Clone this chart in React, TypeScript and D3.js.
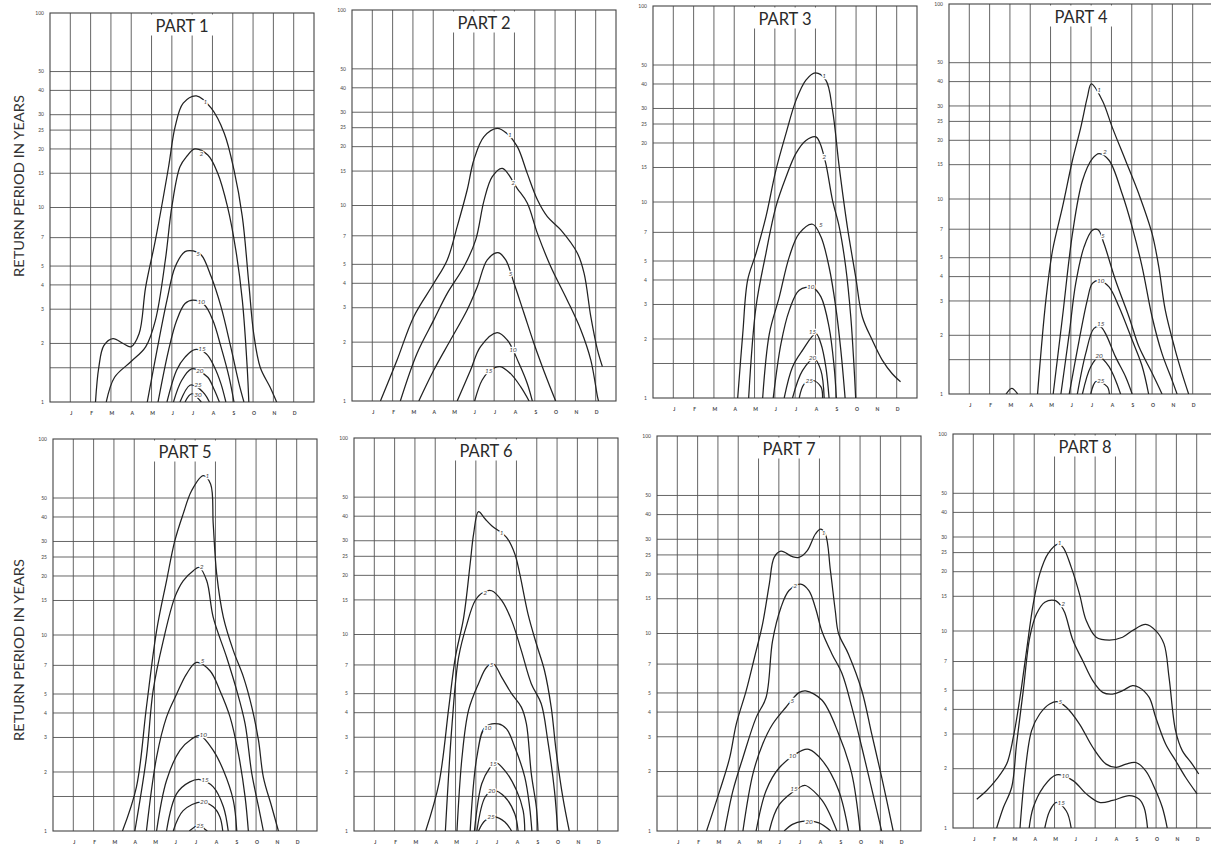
import React, { useEffect, useRef } from 'react';
import * as d3 from 'd3';

type Pt = [number, number];

const months = ['J', 'F', 'M', 'A', 'M', 'J', 'J', 'A', 'S', 'O', 'N', 'D'];
const yTicks = [1, 2, 3, 4, 5, 7, 10, 15, 20, 25, 30, 40, 50, 100];
const yGrid = [1.5, 2, 3, 4, 5, 7, 10, 15, 20, 25, 30, 40, 50];
const axisTitle = 'RETURN PERIOD IN YEARS';

// curve values: [month (J = 1), value]
const part1Names = ['1', '2', '5', '10', '15', '20', '25', '30'];
const part1Curves: Pt[][] = [
  [[2.24, 1], [2.4, 1.5], [2.65, 1.95], [3.1, 2.12], [3.6, 2.0], [3.98, 1.92], [4.39, 2.25], [4.71, 3.9], [5.19, 6.8], [5.84, 16.2], [6.16, 26], [6.56, 34.4], [7.21, 37.5], [7.94, 32.4], [8.58, 24.1], [9.06, 15.6], [9.47, 8.97], [9.79, 4.07], [10.03, 2.25], [10.35, 1.51], [10.84, 1.19], [11.16, 1]],
  [[2.77, 1], [3.18, 1.34], [3.98, 1.61], [4.71, 1.92], [5.19, 2.63], [5.68, 5.37], [6.0, 10.1], [6.4, 16.2], [6.73, 18.3], [7.13, 20], [7.77, 18.6], [8.26, 15.0], [8.74, 10.1], [9.15, 6.04], [9.47, 3.34], [9.71, 1.51], [9.79, 1]],
  [[4.79, 1], [5.27, 1.85], [5.76, 3.34], [6.16, 4.95], [6.65, 5.93], [7.05, 5.98], [7.45, 5.7], [7.94, 4.4], [8.42, 3.09], [8.9, 1.92], [9.31, 1.24], [9.55, 1]],
  [[5.32, 1], [5.84, 1.85], [6.24, 2.63], [6.65, 3.21], [7.05, 3.34], [7.61, 3.15], [8.02, 2.63], [8.42, 1.92], [8.82, 1.34], [9.06, 1]],
  [[5.76, 1], [6.24, 1.46], [6.65, 1.7], [7.13, 1.86], [7.69, 1.77], [8.1, 1.51], [8.42, 1.24], [8.66, 1]],
  [[6.08, 1], [6.48, 1.29], [6.97, 1.48], [7.3, 1.45], [7.77, 1.34], [8.1, 1.15], [8.34, 1]],
  [[6.4, 1], [6.89, 1.22], [7.2, 1.2], [7.61, 1.1], [7.85, 1]],
  [[6.65, 1], [6.97, 1.1], [7.45, 1]],
];
const part1Labels: Pt[] = [[7.65, 35], [7.45, 19], [7.29, 5.8], [7.45, 3.28], [7.48, 1.88], [7.37, 1.44], [7.29, 1.22], [7.29, 1.09]];

const part2Names = ['1', '2', '5', '10', '15'];
const part2Curves: Pt[][] = [
  [[1.4, 1], [2.22, 1.62], [3.04, 2.7], [4.03, 4.0], [4.69, 5.27], [5.18, 7.8], [5.67, 12.0], [6.0, 17.1], [6.5, 22.5], [7.15, 24.8], [7.6, 23.5], [8.14, 20.0], [8.63, 14.6], [9.13, 10.7], [9.62, 8.77], [10.28, 7.5], [11.1, 5.7], [11.43, 4.5], [11.76, 2.7], [12.09, 1.82], [12.33, 1.5]],
  [[2.38, 1], [3.2, 1.75], [4.03, 2.6], [4.69, 3.55], [5.51, 4.86], [6.09, 6.67], [6.5, 10.6], [6.9, 14.0], [7.4, 15.5], [8.14, 12.2], [8.63, 10.3], [9.13, 7.2], [9.79, 4.86], [10.6, 3.28], [11.27, 2.31], [11.76, 1.62], [12.09, 1.05], [12.14, 1]],
  [[3.29, 1], [4.03, 1.44], [4.85, 2.05], [5.67, 2.92], [6.17, 3.84], [6.66, 5.27], [7.19, 5.74], [7.57, 5.27], [7.98, 4.0], [8.47, 2.81], [8.96, 1.97], [9.62, 1.28], [10.03, 1]],
  [[5.18, 1], [5.84, 1.44], [6.33, 1.9], [7.15, 2.24], [7.65, 2.05], [8.22, 1.56], [8.63, 1.23], [8.88, 1]],
  [[6.04, 1], [6.41, 1.28], [6.83, 1.44], [7.29, 1.5], [7.81, 1.38], [8.31, 1.18], [8.72, 1]],
];
const part2Labels: Pt[] = [[7.78, 22.9], [7.94, 13.1], [7.81, 4.46], [7.93, 1.82], [6.74, 1.43]];

const part3Names = ['1', '2', '5', '10', '15', '20', '25'];
const part3Curves: Pt[][] = [
  [[4.17, 1], [4.42, 2.13], [4.66, 3.99], [5.07, 5.46], [5.56, 8.4], [6.05, 14.5], [6.55, 22.4], [7.04, 33.0], [7.53, 41.9], [7.99, 45.6], [8.51, 41.9], [8.84, 29.4], [9.17, 15.1], [9.57, 7.47], [9.98, 4.15], [10.31, 2.59], [10.8, 1.97], [11.29, 1.56], [11.78, 1.33], [12.19, 1.21]],
  [[4.71, 1], [5.07, 2.91], [5.56, 5.46], [6.05, 9.44], [6.55, 13.4], [7.04, 17.7], [7.53, 20.6], [8.02, 21.5], [8.22, 20], [8.51, 15.7], [8.84, 10.2], [9.17, 7.47], [9.49, 4.66], [9.74, 2.59], [9.9, 1.44], [9.98, 1]],
  [[5.4, 1], [5.73, 2.13], [6.22, 3.28], [6.71, 5.25], [7.2, 6.91], [7.86, 7.7], [8.27, 6.64], [8.67, 4.66], [9.0, 2.91], [9.25, 1.75], [9.46, 1]],
  [[5.92, 1], [6.3, 1.89], [6.71, 2.8], [7.2, 3.55], [7.86, 3.66], [8.27, 3.28], [8.67, 2.3], [8.92, 1.44], [9.03, 1]],
  [[6.46, 1], [6.87, 1.44], [7.36, 1.75], [8.02, 2.13], [8.27, 1.89], [8.51, 1.44], [8.67, 1]],
  [[6.87, 1], [7.36, 1.38], [7.94, 1.59], [8.27, 1.38], [8.43, 1]],
  [[7.2, 1], [7.45, 1.18], [7.86, 1.23], [8.27, 1.14], [8.35, 1]],
];
const part3Labels: Pt[] = [[8.43, 43.9], [8.43, 17.1], [8.27, 7.7], [7.77, 3.68], [7.86, 2.17], [7.86, 1.6], [7.69, 1.23]];

const part4Names = ['1', '2', '5', '10', '15', '20', '25', ''];
const part4Curves: Pt[][] = [
  [[4.36, 1], [4.77, 3.03], [5.1, 5.46], [5.59, 9.1], [6.08, 15.8], [6.49, 23.3], [6.81, 33.2], [7.01, 38.9], [7.55, 32], [8.04, 23.3], [8.69, 15.8], [9.35, 10.6], [10.0, 6.64], [10.33, 4.49], [10.65, 2.69], [11.14, 1.68], [11.47, 1.28], [11.8, 1]],
  [[5.13, 1], [5.59, 2.49], [6.08, 6.64], [6.57, 12.4], [7.06, 16.1], [7.39, 17.1], [7.88, 15.8], [8.53, 10.6], [9.02, 7.18], [9.51, 4.49], [10.0, 2.49], [10.49, 1.61], [10.98, 1.18], [11.23, 1]],
  [[5.51, 1], [5.92, 2.04], [6.24, 3.69], [6.65, 5.68], [7.06, 6.91], [7.34, 6.96], [7.63, 5.91], [8.2, 3.83], [8.86, 2.49], [9.35, 1.75], [10.0, 1.28], [10.49, 1]],
  [[5.92, 1], [6.41, 1.89], [6.81, 3.03], [7.06, 3.69], [7.39, 3.83], [7.88, 3.54], [8.37, 2.8], [9.02, 1.89], [9.5, 1.4], [9.83, 1]],
  [[6.32, 1], [6.73, 1.61], [7.14, 2.17], [7.47, 2.21], [7.71, 2.04], [8.2, 1.55], [8.69, 1.23], [9.02, 1]],
  [[6.57, 1], [6.98, 1.38], [7.39, 1.55], [7.88, 1.38], [8.45, 1]],
  [[6.98, 1], [7.25, 1.16], [7.79, 1.09], [7.9, 1]],
  [[2.81, 1], [3.09, 1.07], [3.38, 1]],
];
const part4Labels: Pt[] = [[7.39, 36.3], [7.68, 17.4], [7.58, 6.5], [7.47, 3.79], [7.47, 2.28], [7.39, 1.57], [7.47, 1.17], [3.09, 1]];

const part5Names = ['1', '2', '5', '10', '15', '20', '25'];
const part5Curves: Pt[][] = [
  [[3.42, 1], [4.11, 1.68], [4.6, 4.28], [5.1, 10.5], [5.59, 18.9], [6.0, 30.3], [6.41, 41.5], [6.83, 54.6], [7.4, 65], [7.76, 58.9], [7.89, 36.8], [8.06, 20.5], [8.39, 12.3], [8.88, 8.32], [9.38, 6.1], [9.79, 4.29], [10.12, 2.9], [10.36, 1.88], [10.77, 1.33], [11.1, 1]],
  [[4.03, 1], [4.6, 2.38], [4.93, 5.2], [5.43, 9.36], [6.0, 15.6], [6.41, 18.9], [6.91, 21.3], [7.2, 22.1], [7.57, 18.9], [7.89, 12.3], [8.55, 7.7], [9.05, 5.2], [9.46, 3.52], [9.79, 1.96], [10.12, 1.33], [10.36, 1]],
  [[4.6, 1], [5.1, 2.38], [5.59, 3.81], [6.09, 5.0], [6.58, 6.34], [7.07, 7.25], [7.73, 6.57], [8.22, 5.2], [8.72, 3.81], [9.13, 2.48], [9.46, 1.49], [9.62, 1]],
  [[5.1, 1], [5.59, 1.81], [6.25, 2.58], [6.83, 2.95], [7.24, 3.07], [7.89, 2.58], [8.39, 2.04], [8.88, 1.43], [9.05, 1]],
  [[5.59, 1], [6.09, 1.55], [6.74, 1.78], [7.24, 1.83], [7.89, 1.68], [8.39, 1.33], [8.63, 1]],
  [[5.92, 1], [6.41, 1.27], [7.32, 1.41], [7.89, 1.33], [8.22, 1.18], [8.36, 1]],
  [[6.71, 1], [6.99, 1.05], [7.24, 1.09], [7.48, 1.02], [7.6, 1]],
];
const part5Labels: Pt[] = [[7.6, 65], [7.32, 22.2], [7.37, 7.36], [7.4, 3.11], [7.48, 1.83], [7.43, 1.41], [7.24, 1.07]];

const part6Names = ['1', '2', '5', '10', '15', '20', '25'];
const part6Curves: Pt[][] = [
  [[3.53, 1], [4.18, 1.74], [4.67, 4.27], [4.99, 7.65], [5.4, 12.2], [5.72, 22.9], [5.89, 32.5], [6.13, 42.2], [6.46, 38.7], [6.78, 35.8], [7.51, 31.2], [7.92, 25.7], [8.16, 20.4], [8.57, 12.7], [8.98, 8.97], [9.38, 6.56], [9.71, 4.27], [9.95, 2.57], [10.28, 1.49], [10.6, 1]],
  [[4.5, 1], [4.83, 3.51], [5.15, 7.65], [5.56, 11.3], [5.97, 14.9], [6.37, 16.4], [6.78, 16.7], [7.27, 14.9], [7.76, 11.8], [8.24, 8.28], [8.73, 5.62], [9.22, 4.44], [9.54, 2.89], [9.87, 1.61], [10.03, 1]],
  [[5.07, 1], [5.32, 2.38], [5.64, 4.11], [6.13, 5.62], [6.54, 6.83], [6.86, 7.1], [7.27, 6.07], [7.76, 5.0], [8.24, 4.27], [8.49, 3.51], [8.73, 1.96], [8.98, 1.32], [9.06, 1]],
  [[5.72, 1], [6.05, 2.38], [6.46, 3.38], [7.11, 3.51], [7.51, 3.31], [7.92, 2.67], [8.41, 1.88], [8.65, 1.32], [8.76, 1]],
  [[5.93, 1], [6.29, 1.74], [6.7, 2.11], [6.94, 2.24], [7.43, 2.03], [8.0, 1.61], [8.33, 1.27], [8.41, 1]],
  [[6.05, 1], [6.46, 1.49], [6.86, 1.61], [7.43, 1.49], [7.92, 1.22], [8.08, 1]],
  [[6.13, 1], [6.46, 1.13], [6.94, 1.18], [7.43, 1.11], [7.76, 1]],
];
const part6Labels: Pt[] = [[7.27, 33.1], [6.46, 16.4], [6.78, 7.03], [6.59, 3.35], [6.86, 2.2], [6.78, 1.61], [6.75, 1.18]];

const part7Names = ['1', '2', '5', '10', '15', '20'];
const part7Curves: Pt[][] = [
  [[2.44, 1], [3.09, 1.6], [3.58, 2.35], [3.9, 3.47], [4.39, 5.12], [4.8, 7.56], [5.2, 11.2], [5.53, 17.8], [5.77, 24.3], [6.1, 26.1], [6.67, 24.5], [6.99, 24.3], [7.4, 26.3], [7.8, 31.9], [8.05, 33.8], [8.29, 31.9], [8.54, 20.8], [8.78, 13.0], [8.94, 10.0], [9.43, 7.86], [10.08, 5.16], [10.57, 3.11], [11.06, 1.88], [11.63, 1]],
  [[3.33, 1], [3.74, 1.6], [4.23, 2.35], [4.88, 3.75], [5.37, 4.74], [5.69, 9.18], [6.1, 13.5], [6.5, 16.5], [7.07, 17.8], [7.48, 16.5], [7.8, 13.5], [8.13, 10.2], [8.62, 7.86], [9.11, 6.27], [9.59, 4.25], [10.24, 2.28], [11.06, 1]],
  [[4.23, 1], [4.72, 1.94], [5.2, 2.75], [5.69, 3.47], [6.34, 4.22], [6.99, 5.02], [7.32, 5.12], [8.13, 4.59], [8.94, 3.11], [9.59, 1.95], [10.0, 1]],
  [[4.88, 1], [5.37, 1.6], [6.02, 2.09], [7.15, 2.56], [7.48, 2.59], [8.13, 2.28], [8.94, 1.61], [9.43, 1]],
  [[5.53, 1], [6.02, 1.36], [7.15, 1.69], [7.32, 1.7], [8.13, 1.43], [8.86, 1]],
  [[6.26, 1], [6.67, 1.08], [7.15, 1.12], [7.97, 1.1], [8.55, 1]],
];
const part7Labels: Pt[] = [[8.21, 32.5], [6.8, 17.4], [6.67, 4.56], [6.67, 2.4], [6.75, 1.63], [7.48, 1.11]];

const part8Names = ['1', '2', '5', '10', '15'];
const part8Curves: Pt[][] = [
  [[1.17, 1.4], [1.66, 1.55], [2.15, 1.77], [2.64, 2.11], [2.97, 2.89], [3.3, 4.6], [3.62, 7.94], [3.95, 13.7], [4.27, 19.5], [4.68, 24.7], [5.17, 27.6], [5.42, 26.6], [5.82, 21.1], [6.23, 15.4], [6.56, 11.3], [7.05, 9.3], [7.7, 9.0], [8.35, 9.3], [8.84, 10.05], [9.49, 10.8], [9.98, 10.05], [10.39, 8.6], [10.64, 5.8], [10.96, 3.12], [11.29, 2.47], [11.78, 2.11], [12.1, 1.88]],
  [[2.15, 1], [2.48, 1.27], [2.89, 1.61], [3.13, 2.67], [3.46, 4.98], [3.78, 9.29], [4.11, 12.2], [4.52, 14.0], [5.01, 14.3], [5.3, 13.5], [5.5, 12.4], [5.91, 8.94], [6.39, 7.06], [6.88, 5.6], [7.37, 4.88], [7.86, 4.78], [8.35, 4.98], [8.84, 5.28], [9.17, 5.17], [9.66, 4.6], [9.98, 3.65], [10.47, 2.67], [10.96, 2.2], [11.45, 1.81], [12.02, 1.49]],
  [[3.3, 1], [3.54, 1.88], [3.87, 3.12], [4.27, 3.79], [4.76, 4.26], [5.17, 4.37], [5.58, 4.1], [6.23, 3.37], [6.88, 2.57], [7.54, 2.11], [8.03, 2.03], [8.52, 2.11], [9.0, 2.15], [9.49, 1.95], [9.98, 1.55], [10.31, 1.27], [10.55, 1]],
  [[3.75, 1], [3.95, 1.27], [4.44, 1.61], [5.09, 1.86], [5.91, 1.74], [6.56, 1.49], [7.21, 1.35], [7.86, 1.38], [8.68, 1.46], [9.17, 1.4], [9.41, 1.27], [9.58, 1]],
  [[4.52, 1], [4.76, 1.22], [5.09, 1.35], [5.58, 1.22], [5.82, 1]],
];
const part8Labels: Pt[] = [[5.25, 28.2], [5.42, 13.7], [5.29, 4.38], [5.53, 1.84], [5.33, 1.35]];

const parts = [
  { title: 'PART 1', names: part1Names, curves: part1Curves, labels: part1Labels },
  { title: 'PART 2', names: part2Names, curves: part2Curves, labels: part2Labels },
  { title: 'PART 3', names: part3Names, curves: part3Curves, labels: part3Labels },
  { title: 'PART 4', names: part4Names, curves: part4Curves, labels: part4Labels },
  { title: 'PART 5', names: part5Names, curves: part5Curves, labels: part5Labels },
  { title: 'PART 6', names: part6Names, curves: part6Curves, labels: part6Labels },
  { title: 'PART 7', names: part7Names, curves: part7Curves, labels: part7Labels },
  { title: 'PART 8', names: part8Names, curves: part8Curves, labels: part8Labels },
];

// panel frames on the page (left, top, bottom)
const frames = [
  { x: 50, y: 13, b: 402 },
  { x: 352, y: 10, b: 401 },
  { x: 653, y: 6, b: 398 },
  { x: 949, y: 4, b: 394 },
  { x: 53, y: 439, b: 831 },
  { x: 354, y: 438, b: 831 },
  { x: 657, y: 436, b: 831 },
  { x: 953, y: 434, b: 828 },
];
const panelW = 264;
const W = 1211;
const H = 844;
const FONT = 'Lato, "Open Sans", sans-serif';

export default function App() {
  const svgRef = useRef<SVGSVGElement>(null);

  useEffect(() => {
    if (!svgRef.current) return;
    const svg = d3.select(svgRef.current);
    svg.selectAll('*').remove();

    svg.append('rect').attr('width', W).attr('height', H).attr('fill', '#fff');

    parts.forEach((part, i) => {
      const f = frames[i];
      const x = d3.scaleLinear().domain([0, 13]).range([f.x, f.x + panelW]);
      const y = d3.scaleLog().domain([1, 100]).range([f.b, f.y]);
      const g = svg.append('g');

      const clipId = `clip-${i}`;
      g.append('clipPath')
        .attr('id', clipId)
        .append('rect')
        .attr('x', f.x)
        .attr('y', f.y)
        .attr('width', panelW)
        .attr('height', f.b - f.y);

      // grid
      g.selectAll('.vgrid')
        .data(d3.range(1, 13))
        .join('line')
        .attr('x1', d => x(d))
        .attr('x2', d => x(d))
        .attr('y1', f.y)
        .attr('y2', f.b)
        .attr('stroke', '#555')
        .attr('stroke-width', 0.9);

      g.selectAll('.hgrid')
        .data(yGrid)
        .join('line')
        .attr('x1', f.x)
        .attr('x2', f.x + panelW)
        .attr('y1', d => y(d))
        .attr('y2', d => y(d))
        .attr('stroke', '#555')
        .attr('stroke-width', 0.9);

      // title with white patch
      const cx = f.x + panelW / 2;
      g.append('rect')
        .attr('x', cx - 33)
        .attr('y', f.y + 1.5)
        .attr('width', 66)
        .attr('height', 21)
        .attr('fill', '#fff');
      g.append('text')
        .attr('x', cx)
        .attr('y', f.y + 18.5)
        .attr('text-anchor', 'middle')
        .style('font-family', FONT)
        .style('font-size', '16.5px')
        .style('fill', '#2a2a2a')
        .text(part.title);

      g.append('rect')
        .attr('x', f.x)
        .attr('y', f.y)
        .attr('width', panelW)
        .attr('height', f.b - f.y)
        .attr('fill', 'none')
        .attr('stroke', '#444')
        .attr('stroke-width', 1.1);

      // y tick labels
      g.selectAll('.ytick')
        .data(yTicks)
        .join('text')
        .attr('x', f.x - 6)
        .attr('y', d => y(d))
        .attr('dy', '0.35em')
        .attr('text-anchor', 'end')
        .style('font-family', FONT)
        .style('font-size', '5px')
        .style('fill', '#444')
        .text(d => String(d));

      // month labels
      g.selectAll('.month')
        .data(months)
        .join('text')
        .attr('x', (_, k) => x(k + 1) + 1)
        .attr('y', f.b + 13)
        .attr('text-anchor', 'middle')
        .style('font-family', FONT)
        .style('font-size', '5px')
        .style('font-weight', 700)
        .style('fill', '#444')
        .text(d => d);

      // curves
      const line = d3
        .line<Pt>()
        .x(d => x(d[0]))
        .y(d => y(d[1]))
        .curve(d3.curveCatmullRom.alpha(0.5));

      const cg = g.append('g').attr('clip-path', `url(#${clipId})`);
      cg.selectAll('path')
        .data(part.curves)
        .join('path')
        .attr('d', d => line(d))
        .attr('fill', 'none')
        .attr('stroke', '#222')
        .attr('stroke-width', 1.25);

      // curve labels, white halo breaks the line like the original
      cg.selectAll('.clabel')
        .data(part.labels.map((p, k) => ({ p, name: part.names[k] })).filter(d => d.name))
        .join('text')
        .attr('x', d => x(d.p[0]))
        .attr('y', d => y(d.p[1]))
        .attr('dy', '0.35em')
        .attr('text-anchor', 'middle')
        .style('font-family', FONT)
        .style('font-size', '6.5px')
        .style('font-style', 'italic')
        .style('fill', '#444')
        .style('stroke', '#fff')
        .style('stroke-width', '2.5px')
        .style('paint-order', 'stroke')
        .text(d => d.name);
    });

    // row titles
    [186, 650].forEach(cy => {
      svg.append('text')
        .attr('transform', `translate(24, ${cy}) rotate(-90)`)
        .attr('text-anchor', 'middle')
        .attr('textLength', 182)
        .attr('lengthAdjust', 'spacingAndGlyphs')
        .style('font-family', FONT)
        .style('font-size', '12.5px')
        .style('fill', '#333')
        .text(axisTitle);
    });
  }, []);

  return (
    <svg
      ref={svgRef}
      width={W}
      height={H}
      style={{ position: 'absolute', left: 0, top: 0, display: 'block' }}
    />
  );
}
